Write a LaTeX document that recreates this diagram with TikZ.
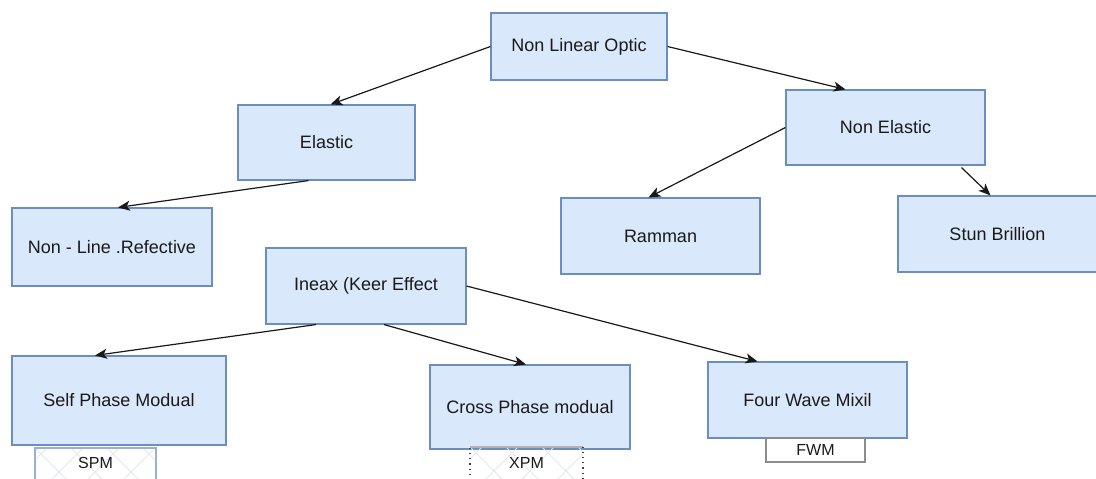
\documentclass[tikz,border=0pt]{standalone}
\usepackage{fontspec}
\setmainfont{Liberation Sans}
\usetikzlibrary{arrows.meta}
\definecolor{boxfill}{HTML}{DAE8FC}
\definecolor{boxline}{HTML}{6C8EBF}
\definecolor{txt}{HTML}{1A1A1A}
\definecolor{hatch}{HTML}{E2E7F0}
\tikzset{
  box/.style 2 args={draw=boxline, fill=boxfill, line width=0.55pt,
    minimum width=#1*0.5pt, minimum height=#2*0.5pt, inner sep=0pt,
    font=\fontsize{9}{10}\selectfont, text=txt},
  tag/.style 2 args={minimum width=#1*0.5pt, minimum height=#2*0.5pt, inner sep=0pt,
    font=\fontsize{8}{9}\selectfont, text=txt},
  link/.style={-{Stealth[length=6pt,width=5pt,inset=1.6pt]}, line width=0.6pt, draw=black!90}
}
\begin{document}
\begin{tikzpicture}[x=0.5pt, y=-0.5pt]
\useasboundingbox (0,0) rectangle (1096,478);
\clip (0,0) rectangle (1096,478);
\fill[white] (0,0) rectangle (1096,478);

% main boxes
\node[box={176}{67}]  (nlo)   at (579,46.5)   {Non Linear Optic};
\node[box={177}{75}]  (el)    at (326.5,142.5) {Elastic};
\node[box={199}{75}]  (ne)    at (885.5,127.5) {Non Elastic};
\node[box={200}{78}]  (nl)    at (112,247)    {Non - Line .Refective};
\node[box={199}{76}]  (ram)   at (660.5,236)  {Ramman};
\node[box={199}{76}]  (stun)  at (997.5,234)  {Stun Brillion};
\node[box={200}{76}]  (ker)   at (366,286)    {Ineax (Keer Effect};
\node[box={214}{89}]  (spmod) at (119,400.5)  {Self Phase Modual};
\node[box={200}{84}]  (xpmod) at (530,407)    {Cross Phase modual};
\node[box={199}{76}]  (fwmod) at (807.5,400)  {Four Wave Mixil};

% small abbreviation tags with faint cross hatching
\begin{scope}
  \clip (35,448) rectangle (156,490);
  \foreach \k in {-4,...,6} {
    \draw[hatch, line width=0.5pt] (35+36*\k,448) -- ++(48,48);
    \draw[hatch, line width=0.5pt] (35+36*\k,496) -- ++(48,-48);
  }
\end{scope}
\draw[boxline!70, line width=0.55pt] (35,490) -- (35,448) -- (156,448) -- (156,490);
\node[tag={121}{30}] (spm) at (95.5,463) {SPM};

\begin{scope}
  \clip (470,447) rectangle (583,490);
  \foreach \k in {-4,...,6} {
    \draw[hatch, line width=0.5pt] (470+36*\k,447) -- ++(48,48);
    \draw[hatch, line width=0.5pt] (470+36*\k,495) -- ++(48,-48);
  }
\end{scope}
\draw[black!30, line width=0.55pt] (470,447) -- (583,447);
\draw[black!75, line width=0.55pt, dotted] (470,490) -- (470,447) (583,447) -- (583,490);
\node[tag={113}{30}] (xpm) at (526.5,463) {XPM};

\node[tag={99}{24}, draw=black!45, fill=white, line width=0.6pt] (fwm) at (815.5,450) {FWM};

% connectors
\draw[link] (nlo.west) -- ([xshift=2pt]el.north);
\draw[link] (nlo.east) -- ([xshift=-20pt]ne.north);
\draw[link] ([xshift=-9pt]el.south) -- ([xshift=3pt]nl.north);
\draw[link] (ne.west) -- ([xshift=-6pt]ram.north);
\draw[link] ([xshift=38pt,yshift=-1pt]ne.south) -- ([xshift=-3.5pt]stun.north);
\draw[link] ([xshift=-25pt]ker.south) -- ([xshift=-12pt]spmod.north);
\draw[link] ([xshift=9pt]ker.south) -- ([xshift=-2pt]xpmod.north);
\draw[link] (ker.east) -- ([xshift=-25pt]fwmod.north);
\end{tikzpicture}
\end{document}
